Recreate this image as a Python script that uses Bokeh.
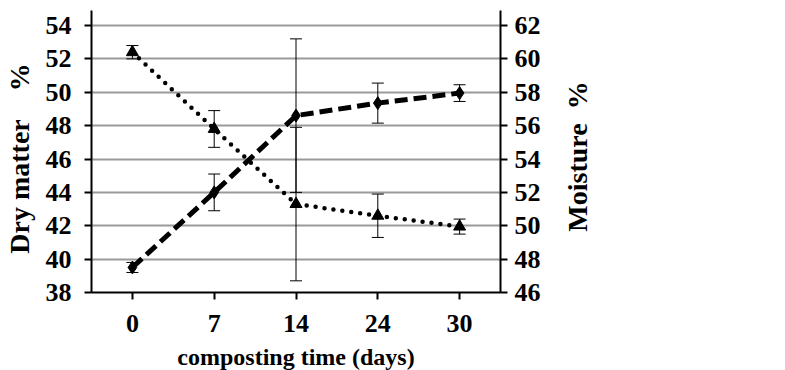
import math
from bokeh.plotting import figure
from bokeh.layouts import row
from bokeh.models import (Range1d, LinearAxis, FixedTicker, Whisker, ColumnDataSource,
                          Legend, LegendItem, TeeHead, FactorRange, Label)
from bokeh.embed import file_html
from bokeh.resources import INLINE

# ---- data ----
days = ["0", "7", "14", "24", "30"]
dry_matter = [39.5, 44.0, 48.6, 49.35, 49.95]
dry_err = [0.3, 1.1, 4.6, 1.2, 0.5]
moisture = [60.4, 55.8, 51.3, 50.6, 49.95]
moist_err = [0.4, 1.1, 4.6, 1.3, 0.45]
left_ticks = [38, 40, 42, 44, 46, 48, 50, 52, 54]
right_ticks = [46, 48, 50, 52, 54, 56, 58, 60, 62]
grid_ticks = [40, 42, 44, 46, 48, 50, 52, 54]
series_names = ["Dry matter", "Moisture"]

FONT = "Liberation Serif"

src = ColumnDataSource(dict(
    days=days,
    dm=dry_matter,
    dm_lo=[v - e for v, e in zip(dry_matter, dry_err)],
    dm_hi=[v + e for v, e in zip(dry_matter, dry_err)],
    mo=moisture,
    mo_lo=[v - e for v, e in zip(moisture, moist_err)],
    mo_hi=[v + e for v, e in zip(moisture, moist_err)],
))

p = figure(x_range=FactorRange(*days), y_range=Range1d(38, 54.9),
           frame_width=409, frame_height=282, output_backend="svg",
           toolbar_location=None,
           min_border_left=80, min_border_right=60, min_border_top=10,
           min_border_bottom=76)
p.outline_line_color = None
p.background_fill_color = "white"
p.extra_y_ranges = {"moist": Range1d(46, 62.9)}

# grid
p.xgrid.visible = False
p.ygrid.ticker = FixedTicker(ticks=grid_ticks)
p.ygrid.grid_line_color = "#9a9a9a"
p.ygrid.grid_line_width = 2


def style_axis(ax, label_size="26px", title_size="28px"):
    ax.axis_line_color = "black"
    ax.axis_line_width = 2
    ax.major_tick_line_color = "black"
    ax.major_tick_line_width = 2
    ax.major_tick_in = 0
    ax.major_tick_out = 7
    ax.minor_tick_line_color = None
    ax.major_label_text_font = FONT
    ax.major_label_text_font_style = "bold"
    ax.major_label_text_font_size = label_size
    ax.major_label_text_color = "black"
    ax.axis_label_text_font = FONT
    ax.axis_label_text_font_style = "bold"
    ax.axis_label_text_font_size = title_size
    ax.axis_label_text_color = "black"


# left axis
ly = p.yaxis[0]
ly.ticker = FixedTicker(ticks=left_ticks)
ly.axis_label = "Dry matter\u00a0\u00a0\u00a0\u00a0%\u00a0\u00a0"
style_axis(ly)
ly.major_label_standoff = 13
ly.axis_label_standoff = 8

# bottom axis
bx = p.xaxis[0]
bx.axis_label = "composting time (days)"
style_axis(bx, title_size="24px")
bx.major_label_standoff = 15
bx.axis_label_standoff = 9

# right axis
ry = LinearAxis(y_range_name="moist", ticker=FixedTicker(ticks=right_ticks))
style_axis(ry)
ry.major_label_standoff = 7
p.add_layout(ry, "right")

# error bars
for lo, hi, rng in (("dm_lo", "dm_hi", "default"), ("mo_lo", "mo_hi", "moist")):
    w = Whisker(source=src, base="days", lower=lo, upper=hi, y_range_name=rng,
                line_color="black", line_width=1, level="glyph",
                lower_head=TeeHead(size=12, line_width=1, line_color="black"),
                upper_head=TeeHead(size=12, line_width=1, line_color="black"))
    p.add_layout(w)

# series styles
DM_STYLE = dict(line_color="black", line_width=5, line_dash="13 6")
MO_STYLE = dict(line_color="black", line_width=4.5, line_dash="0 9", line_cap="round")

p.line("days", "dm", source=src, **DM_STYLE)
p.scatter("days", "dm", source=src, marker="diamond", size=13, color="black")
p.line("days", "mo", source=src, y_range_name="moist", **MO_STYLE)
p.scatter("days", "mo", source=src, y_range_name="moist",
          marker="triangle", size=12, color="black")

# side area: right axis title and legend
p2 = figure(x_range=FactorRange(*days), y_range=Range1d(0, 370),
            frame_width=220, frame_height=370, output_backend="svg",
            toolbar_location=None, x_axis_location=None, y_axis_location=None,
            min_border=0)
p2.outline_line_color = None
p2.xgrid.visible = False
p2.ygrid.visible = False
# the legend's sample renderers plot the same series on a range outside this panel
p2.extra_y_ranges = {"off": Range1d(1000, 1001)}

p2.add_layout(Label(x=17, y=224, x_units="screen", text="Moisture\u00a0\u00a0%",
                    angle=math.pi / 2, text_align="center", text_baseline="middle",
                    text_font=FONT, text_font_style="bold",
                    text_font_size="28px", text_color="black"))

kw = dict(source=src, y_range_name="off")
l_dm = p2.line("days", "dm", **kw, **DM_STYLE)
s_dm = p2.scatter("days", "dm", marker="diamond", size=10, color="black", **kw)
l_mo = p2.line("days", "mo", **kw, **MO_STYLE)
s_mo = p2.scatter("days", "mo", marker="triangle", size=9, color="black", **kw)

legend = Legend(items=[LegendItem(label=series_names[0], renderers=[l_dm, s_dm]),
                       LegendItem(label=series_names[1], renderers=[l_mo, s_mo])],
                location=(45, 421), border_line_color=None,
                background_fill_alpha=0, label_text_font=FONT,
                label_text_font_style="bold", label_text_font_size="24px",
                label_text_color="black",
                glyph_width=54, glyph_height=24, label_height=24, spacing=9,
                padding=0, margin=0, label_standoff=4)
p2.add_layout(legend)

open("out.html", "w").write(file_html(row(p, p2), INLINE))
